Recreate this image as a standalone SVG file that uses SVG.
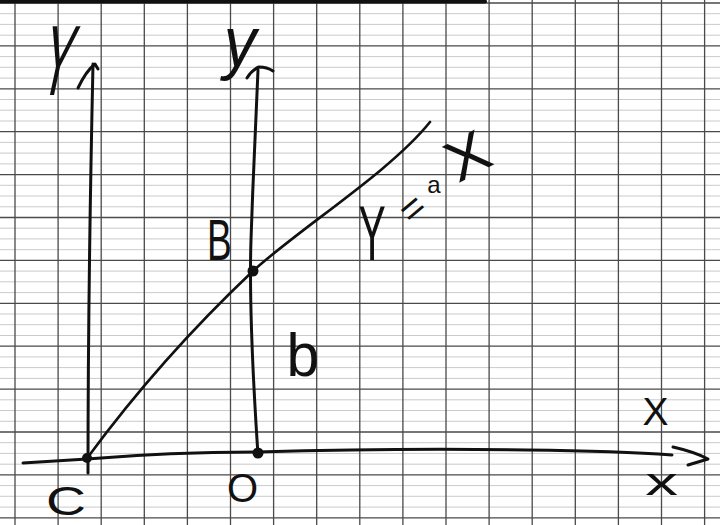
<svg xmlns="http://www.w3.org/2000/svg" width="720" height="525" viewBox="0 0 720 525">
<style>
.maj{stroke:#4a4a4a;stroke-width:1.3;fill:none}
.min{stroke:#bdbdbd;stroke-width:0.8;fill:none}
.ink{stroke:#111;stroke-width:3;fill:none;stroke-linecap:round;stroke-linejoin:round}
.thin{stroke:#111;stroke-width:2.6;fill:none;stroke-linecap:round}
.dot{fill:#111}
.lbl{font-family:"Liberation Sans",Arial,sans-serif;fill:#111;text-anchor:middle}
</style>
<rect width="720" height="525" fill="#fff"/>
<g id="grid">
<path class="min" d="M0,13.7H720M0,24.4H720M0,35.2H720M0,56.6H720M0,67.3H720M0,78.1H720M0,99.5H720M0,110.2H720M0,121H720M0,142.4H720M0,153.1H720M0,163.9H720M0,185.3H720M0,196H720M0,206.8H720M0,228.2H720M0,238.9H720M0,249.7H720M0,271.1H720M0,281.8H720M0,292.6H720M0,314H720M0,324.7H720M0,335.5H720M0,356.9H720M0,367.6H720M0,378.4H720M0,399.8H720M0,410.5H720M0,421.3H720M0,442.7H720M0,453.4H720M0,464.2H720M0,485.6H720M0,496.3H720M0,507.1H720"/>
<path class="maj" d="M0,3H720M0,45.9H720M0,88.8H720M0,131.7H720M0,174.6H720M0,217.5H720M0,260.4H720M0,303.3H720M0,346.2H720M0,389.1H720M0,432H720M0,474.9H720M0,517.8H720"/>
<path class="maj" d="M15,0V525M58.1,0V525M101.2,0V525M144.3,0V525M187.4,0V525M230.5,0V525M273.6,0V525M316.7,0V525M359.8,0V525M402.9,0V525M446,0V525M489.1,0V525M532.2,0V525M575.3,0V525M618.4,0V525M661.5,0V525M704.6,0V525"/>
<path d="M0,1.5H485" stroke="#111" stroke-width="4" stroke-linecap="round"/>
</g>
<g id="connectors">
<path id="axis-Y" class="ink" d="M88,473 C88,330 90,200 93,64"/>
<path class="ink" d="M78,88 Q86,71 95,64 L98,69"/>
<path id="axis-y" class="ink" d="M258,455 C253,380 249,300 251,240 S256,110 258,70"/>
<path class="ink" d="M247,78 Q252,70 259,67 Q267,67 273,71"/>
<path id="axis-x" class="ink" d="M23,463 L87,459 Q170,452 257,452 Q400,448 527,450 Q620,451 672,455"/>
<path class="ink" d="M673,447 Q695,452 708,459 L688,465"/>
<path id="curve" class="thin" d="M88,457 C130,400 180,340 253,271 C300,228 390,172 430,122"/>
</g>
<g id="node-C">
<circle class="dot" cx="87" cy="458" r="5"/>
<text class="lbl" font-size="41" transform="translate(66,515) scale(1.35,1)">C</text>
</g>
<g id="node-O">
<circle class="dot" cx="258" cy="453" r="5.5"/>
<text class="lbl" font-size="40" transform="translate(242.5,502)">O</text>
</g>
<g id="node-B">
<circle class="dot" cx="253" cy="271" r="5.5"/>
<text class="lbl" font-size="58" transform="translate(219.5,260) scale(0.64,1)">B</text>
</g>
<g id="label-b">
<text class="lbl" font-size="62" transform="translate(303,376) scale(0.95,1)">b</text>
</g>
<g id="label-Y">
<text class="lbl" font-size="100" transform="translate(52,95) skewX(-12) scale(0.45,1)">Y</text>
</g>
<g id="label-y">
<text class="lbl" font-size="62" font-style="italic" transform="translate(240,66) scale(1.05,1.15)">y</text>
</g>
<g id="label-X">
<text class="lbl" font-size="39" transform="translate(655.5,425)">X</text>
</g>
<g id="label-x">
<text class="lbl" font-size="38.5" transform="translate(661.5,495) scale(1.7,1)">x</text>
</g>
<g id="label-curve">
<text class="lbl" font-size="77" transform="translate(372,260) scale(0.53,1)">Y</text>
<text class="lbl" font-size="40" transform="translate(412,208) rotate(-40) translate(0,14)">=</text>
<text class="lbl" font-size="24" transform="translate(434,193)">a</text>
<text class="lbl" font-size="58" transform="translate(467,155) rotate(-28) scale(1.1,1) translate(0,21)">X</text>
</g>
</svg>
